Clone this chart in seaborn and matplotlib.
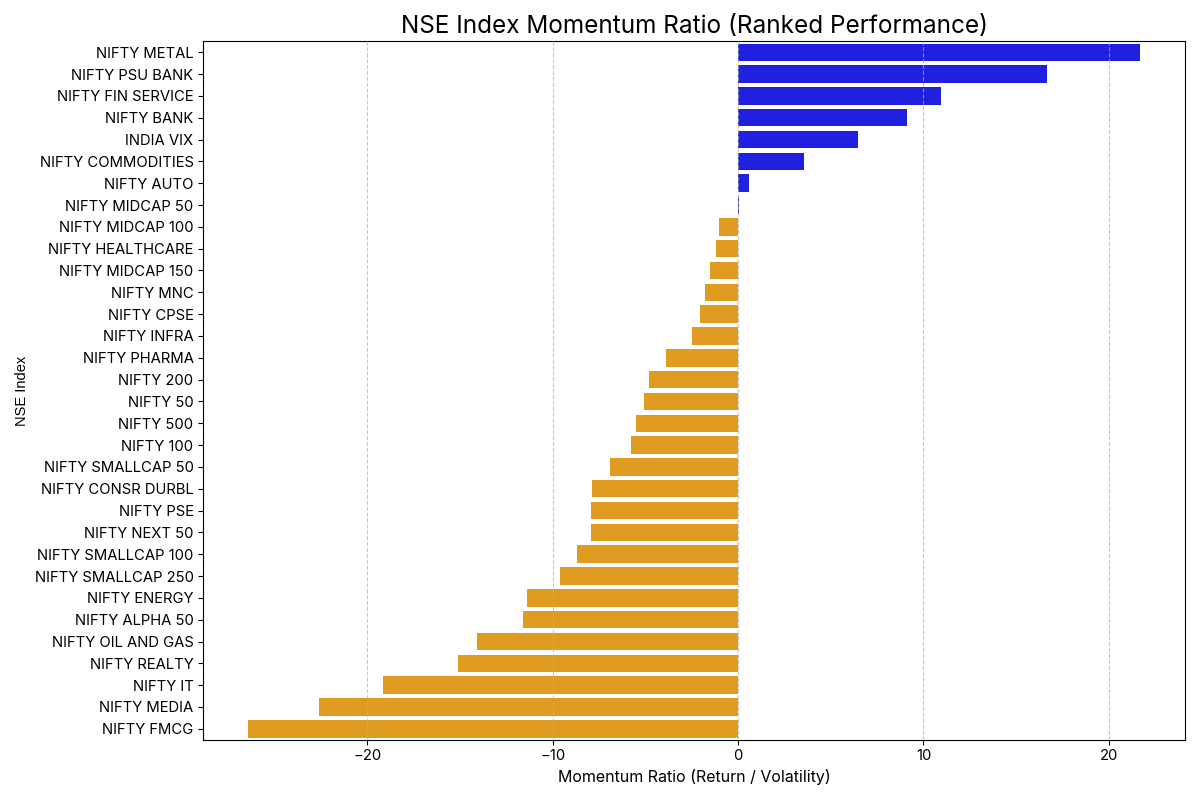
import matplotlib
matplotlib.use("Agg")
import matplotlib.pyplot as plt
import seaborn as sns
import pandas as pd

indices = ["NIFTY METAL", "NIFTY PSU BANK", "NIFTY FIN SERVICE", "NIFTY BANK", "INDIA VIX",
           "NIFTY COMMODITIES", "NIFTY AUTO", "NIFTY MIDCAP 50", "NIFTY MIDCAP 100",
           "NIFTY HEALTHCARE", "NIFTY MIDCAP 150", "NIFTY MNC", "NIFTY CPSE", "NIFTY INFRA",
           "NIFTY PHARMA", "NIFTY 200", "NIFTY 50", "NIFTY 500", "NIFTY 100",
           "NIFTY SMALLCAP 50", "NIFTY CONSR DURBL", "NIFTY PSE", "NIFTY NEXT 50",
           "NIFTY SMALLCAP 100", "NIFTY SMALLCAP 250", "NIFTY ENERGY", "NIFTY ALPHA 50",
           "NIFTY OIL AND GAS", "NIFTY REALTY", "NIFTY IT", "NIFTY MEDIA", "NIFTY FMCG"]
momentum = [21.7, 16.67, 10.95, 9.10, 6.45, 3.55, 0.58, 0.04, -1.05,
            -1.17, -1.50, -1.77, -2.04, -2.47, -3.89, -4.82, -5.10, -5.53, -5.80,
            -6.89, -7.86, -7.92, -7.93, -8.68, -9.61, -11.36, -11.58,
            -14.09, -15.12, -19.14, -22.63, -26.44]

df = pd.DataFrame({"Index": indices, "Momentum": momentum})
df["Sign"] = ["pos" if v > 0 else "neg" for v in df["Momentum"]]

plt.rcParams["font.family"] = ["Inter", "DejaVu Sans"]

fig, ax = plt.subplots(figsize=(12, 8), dpi=100)
sns.barplot(data=df, x="Momentum", y="Index", hue="Sign",
            palette={"pos": "blue", "neg": "orange"}, legend=False, ax=ax)
ax.set_title("NSE Index Momentum Ratio (Ranked Performance)", fontsize=17.5)
ax.set_xlabel("Momentum Ratio (Return / Volatility)", fontsize=11.5)
ax.set_ylabel("NSE Index", fontsize=10.5, family=["Liberation Sans", "DejaVu Sans"])
ax.tick_params(axis="both", labelsize=10.7)
ax.grid(axis="x", linestyle="--", alpha=0.7)
ax.set_axisbelow(False)
fig.tight_layout()
fig.savefig("out.png", dpi=100)
